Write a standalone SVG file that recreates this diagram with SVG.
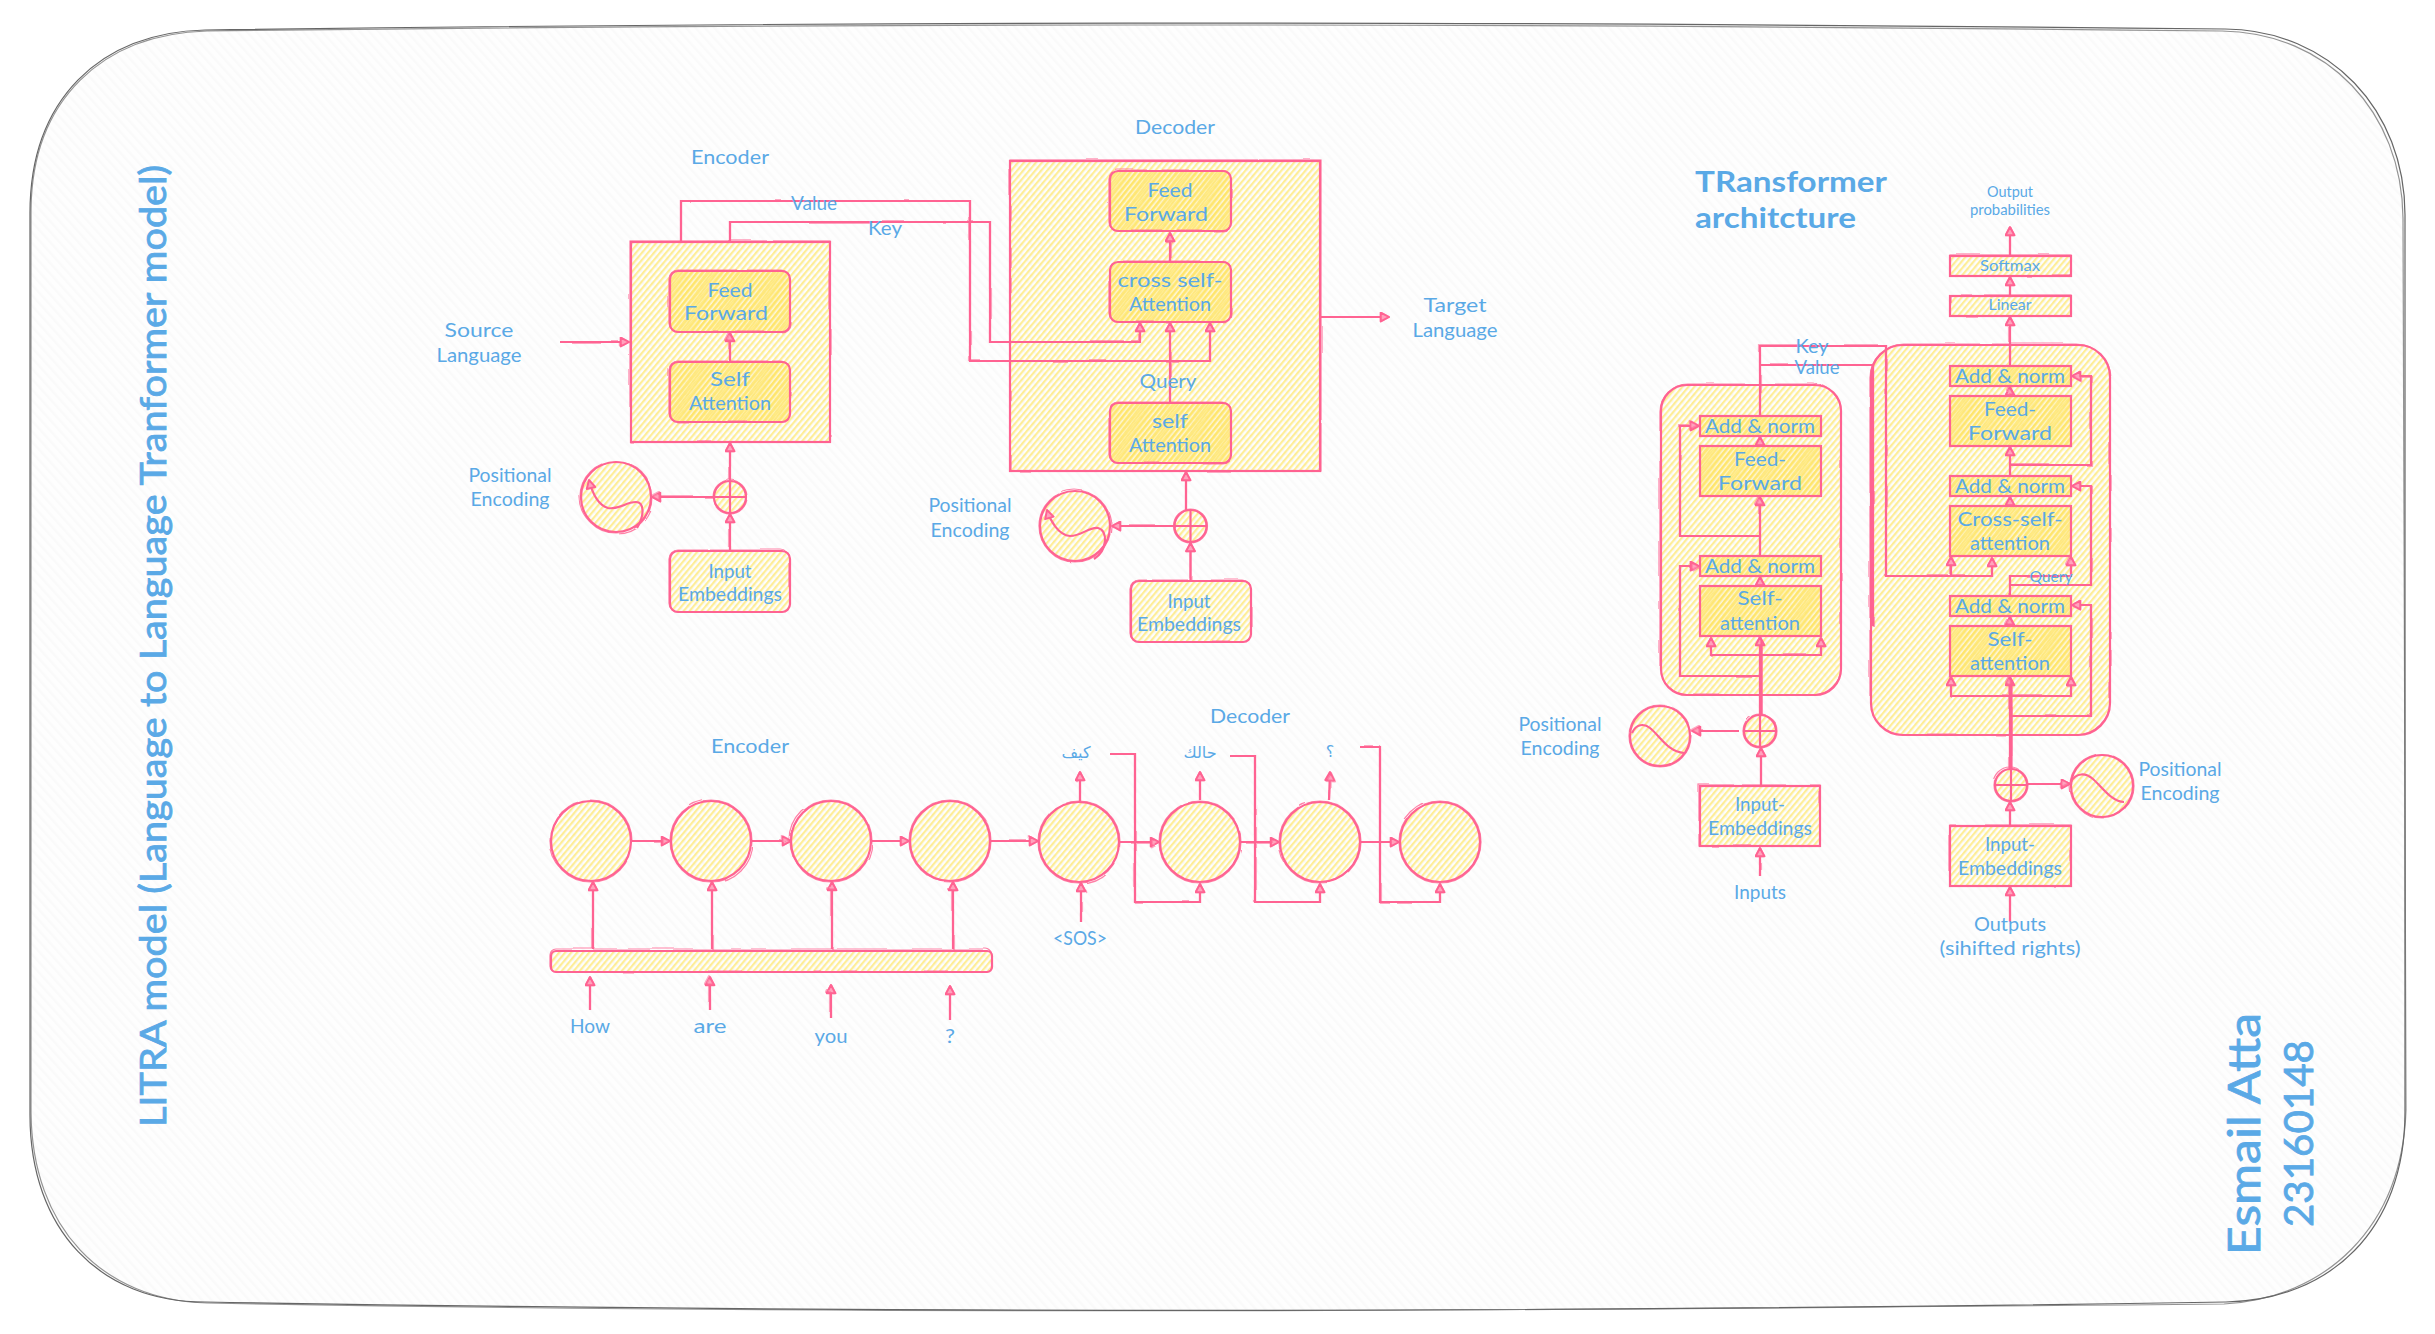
<svg xmlns="http://www.w3.org/2000/svg" xmlns:xlink="http://www.w3.org/1999/xlink" width="2435" height="1334" viewBox="0 0 2435 1334">
<style>
.s{fill:none;stroke:#ff6392;stroke-width:2.2}
.r{fill:none;stroke:#ff6392;stroke-width:1.2;opacity:.8;filter:url(#rough)}
.a{fill:url(#hA)}
.b{fill:url(#hB)}
.c{fill:none;stroke:#ff6392;stroke-width:2.2;marker-end:url(#arrow)}
.l{fill:none;stroke:#ff6392;stroke-width:2.2}
text{font-family:"Lato","Liberation Sans",sans-serif;fill:#5aa9e6;font-size:20px;text-anchor:middle;dominant-baseline:central}
text:not(.big):not(.title){transform:translateY(-1.5px)}
.sm{font-size:15px}
.ar{font-family:"DejaVu Sans","Noto Sans",sans-serif;font-size:16px}
.big{font-size:36px;text-anchor:start;dominant-baseline:alphabetic;stroke:#5aa9e6;stroke-width:.8}
.title{font-size:28px;font-weight:700;text-anchor:start;dominant-baseline:alphabetic}
.frame{fill:none;stroke:#666;stroke-width:1.2}
</style>
<defs>
<pattern id="hBg" width="7" height="7" patternUnits="userSpaceOnUse" patternTransform="rotate(-42)"><rect width="7" height="7" fill="#fefefe"/><rect width="2.5" height="7" fill="#fafafa"/></pattern>
<pattern id="hA" width="4.6" height="4.6" patternUnits="userSpaceOnUse" patternTransform="rotate(40)"><rect width="2.2" height="4.6" fill="#ffe45e" fill-opacity=".64"/></pattern>
<pattern id="hB" width="4" height="4" patternUnits="userSpaceOnUse" patternTransform="rotate(38)"><rect width="4" height="4" fill="#ffe45e" fill-opacity=".22"/><rect width="2.4" height="4" fill="#ffe45e" fill-opacity=".72"/></pattern>
<filter id="rough" x="-8%" y="-8%" width="116%" height="116%"><feTurbulence type="fractalNoise" baseFrequency="0.025" numOctaves="2" seed="4"/><feDisplacementMap in="SourceGraphic" scale="3.5"/></filter>
<marker id="arrow" markerUnits="userSpaceOnUse" viewBox="0 0 10 10" markerWidth="11" markerHeight="11" refX="9" refY="5" orient="auto"><path d="M1.5,1 L9,5 L1.5,9 Z" fill="#ffa3bd" stroke="#ff6392" stroke-width="1.8" stroke-linejoin="round"/></marker>
</defs>

<g id="frame">
<path d="M30,213 C30,100 100,32 205,30 C800,22 1400,20 2225,29 C2330,30 2405,110 2405,215 L2405,1112 C2405,1230 2330,1300 2226,1302 C1600,1312 900,1314 205,1302 C100,1302 30,1230 30,1115 Z" fill="url(#hBg)" stroke="#666" stroke-width="1.2"/>
<path class="frame" opacity=".7" d="M31,210 C32,100 102,34 207,31 C800,24 1400,22 2222,31 C2328,33 2402,112 2403,218 L2406,1110 C2402,1228 2326,1298 2224,1304 C1600,1310 900,1316 207,1303 C102,1300 32,1228 31,1112 Z"/>
</g>

<g id="titles">
<text class="big" id="t-litra" transform="translate(166 1127) rotate(-90)" textLength="962" lengthAdjust="spacingAndGlyphs">LITRA model (Language to Language Tranformer model)</text>
<text class="big" id="t-name" style="font-size:44px" transform="translate(2260 1255) rotate(-90)" textLength="242" lengthAdjust="spacingAndGlyphs">Esmail Atta</text>
<text class="big" id="t-num" style="font-size:40px" transform="translate(2313 1227) rotate(-90)" textLength="187" lengthAdjust="spacingAndGlyphs">23160148</text>
<text class="title" x="1695" y="192" textLength="192" lengthAdjust="spacingAndGlyphs">TRansformer</text>
<text class="title" x="1695" y="228" textLength="161" lengthAdjust="spacingAndGlyphs">architcture</text>
</g>

<g id="enc-box"><rect class="a" x="631" y="242" width="199" height="200"/><rect class="s" x="631" y="242" width="199" height="200"/><rect class="r" x="630" y="241" width="200" height="201"/></g>
<g id="dec-box"><rect class="a" x="1010" y="161" width="310" height="310"/><rect class="s" x="1010" y="161" width="310" height="310"/><rect class="r" x="1010" y="160" width="311" height="311"/></g>
<g id="arch-enc"><rect class="a" x="1661" y="385" width="180" height="310" rx="26"/><rect class="s" x="1661" y="385" width="180" height="310" rx="26"/><rect class="r" x="1660" y="384" width="181" height="311" rx="28"/></g>
<g id="arch-dec"><rect class="a" x="1871" y="345" width="239" height="390" rx="32"/><rect class="s" x="1871" y="345" width="239" height="390" rx="32"/><rect class="r" x="1870" y="344" width="240" height="391" rx="34"/></g>

<g id="enc-ff"><rect class="b" x="670" y="271" width="120" height="61" rx="8"/><rect class="s" x="670" y="271" width="120" height="61" rx="8"/><rect class="r" x="669" y="270" width="121" height="62" rx="9"/><text x="730" y="290" textLength="45" lengthAdjust="spacingAndGlyphs">Feed</text><text x="726" y="313" textLength="84" lengthAdjust="spacingAndGlyphs">Forward</text></g>
<g id="enc-sa"><rect class="b" x="670" y="362" width="120" height="60" rx="8"/><rect class="s" x="670" y="362" width="120" height="60" rx="8"/><rect class="r" x="669" y="361" width="121" height="61" rx="9"/><text x="730" y="379" textLength="40" lengthAdjust="spacingAndGlyphs">Self</text><text x="730" y="403" textLength="82" lengthAdjust="spacingAndGlyphs">Attention</text></g>
<g id="enc-ie"><rect class="a" x="670" y="551" width="120" height="61" rx="8"/><rect class="s" x="670" y="551" width="120" height="61" rx="8"/><rect class="r" x="669" y="550" width="121" height="62" rx="9"/><text x="730" y="571" textLength="43" lengthAdjust="spacingAndGlyphs">Input</text><text x="730" y="594" textLength="104" lengthAdjust="spacingAndGlyphs">Embeddings</text></g>
<g id="enc-plus"><circle class="a" cx="730" cy="497" r="16"/><circle class="s" cx="730" cy="497" r="16"/><circle class="r" cx="730" cy="497" r="17"/><path class="l" d="M714,497H746M730,481V513"/></g>
<g id="enc-pos"><circle class="a" cx="616" cy="497" r="35"/><circle class="s" cx="616" cy="497" r="35"/><circle class="r" cx="616" cy="497" r="36"/><path class="c" d="M637,528 C645,515 644,502 636,502 C625,502 620,510 608,508 C598,505 592,492 589,480"/></g>

<g id="dec-ff"><rect class="b" x="1110" y="171" width="121" height="60" rx="8"/><rect class="s" x="1110" y="171" width="121" height="60" rx="8"/><rect class="r" x="1109" y="170" width="122" height="61" rx="9"/><text x="1170" y="190" textLength="45" lengthAdjust="spacingAndGlyphs">Feed</text><text x="1166" y="214" textLength="84" lengthAdjust="spacingAndGlyphs">Forward</text></g>
<g id="dec-cross"><rect class="b" x="1110" y="262" width="121" height="60" rx="8"/><rect class="s" x="1110" y="262" width="121" height="60" rx="8"/><rect class="r" x="1109" y="261" width="122" height="61" rx="9"/><text x="1170" y="280" textLength="105" lengthAdjust="spacingAndGlyphs">cross self-</text><text x="1170" y="304" textLength="82" lengthAdjust="spacingAndGlyphs">Attention</text></g>
<g id="dec-self"><rect class="b" x="1110" y="403" width="121" height="60" rx="8"/><rect class="s" x="1110" y="403" width="121" height="60" rx="8"/><rect class="r" x="1109" y="402" width="122" height="61" rx="9"/><text x="1170" y="421" textLength="36" lengthAdjust="spacingAndGlyphs">self</text><text x="1170" y="445" textLength="82" lengthAdjust="spacingAndGlyphs">Attention</text></g>
<g id="dec-ie"><rect class="a" x="1131" y="581" width="120" height="61" rx="8"/><rect class="s" x="1131" y="581" width="120" height="61" rx="8"/><rect class="r" x="1130" y="580" width="121" height="62" rx="9"/><text x="1189" y="601" textLength="43" lengthAdjust="spacingAndGlyphs">Input</text><text x="1189" y="624" textLength="104" lengthAdjust="spacingAndGlyphs">Embeddings</text></g>
<g id="dec-plus"><circle class="a" cx="1190.5" cy="526" r="16"/><circle class="s" cx="1190.5" cy="526" r="16"/><circle class="r" cx="1190.5" cy="526" r="17"/><path class="l" d="M1174,526H1207M1190.5,510V542"/></g>
<g id="dec-pos"><circle class="a" cx="1075" cy="526" r="35"/><circle class="s" cx="1075" cy="526" r="35"/><circle class="r" cx="1075" cy="526" r="36"/><path class="c" d="M1094,559 C1108,550 1108,530 1098,528 C1088,527 1082,536 1070,536 C1058,535 1050,520 1047,510"/></g>

<g id="seq-bar"><rect class="a" x="551" y="951" width="441" height="21" rx="5"/><rect class="s" x="551" y="951" width="441" height="21" rx="5"/><rect class="r" x="550" y="949" width="442" height="23" rx="6"/></g>
<g id="seq-1"><circle class="a" cx="591" cy="841" r="40"/><circle class="s" cx="591" cy="841" r="40"/><circle class="r" cx="591" cy="841" r="41"/></g>
<g id="seq-2"><circle class="a" cx="711" cy="841" r="40"/><circle class="s" cx="711" cy="841" r="40"/><circle class="r" cx="711" cy="841" r="41"/></g>
<g id="seq-3"><circle class="a" cx="831" cy="841" r="40"/><circle class="s" cx="831" cy="841" r="40"/><circle class="r" cx="831" cy="841" r="41"/></g>
<g id="seq-4"><circle class="a" cx="950" cy="841" r="40"/><circle class="s" cx="950" cy="841" r="40"/><circle class="r" cx="950" cy="841" r="41"/></g>
<g id="seq-5"><circle class="a" cx="1079" cy="842" r="40"/><circle class="s" cx="1079" cy="842" r="40"/><circle class="r" cx="1079" cy="842" r="41"/></g>
<g id="seq-6"><circle class="a" cx="1200" cy="842" r="40"/><circle class="s" cx="1200" cy="842" r="40"/><circle class="r" cx="1200" cy="842" r="41"/></g>
<g id="seq-7"><circle class="a" cx="1320" cy="842" r="40"/><circle class="s" cx="1320" cy="842" r="40"/><circle class="r" cx="1320" cy="842" r="41"/></g>
<g id="seq-8"><circle class="a" cx="1440" cy="842" r="40"/><circle class="s" cx="1440" cy="842" r="40"/><circle class="r" cx="1440" cy="842" r="41"/></g>

<g id="ae-an2"><rect class="b" x="1700" y="416" width="121" height="20"/><rect class="s" x="1700" y="416" width="121" height="20"/><text x="1760" y="426" textLength="110" lengthAdjust="spacingAndGlyphs">Add &amp; norm</text></g>
<g id="ae-ff"><rect class="b" x="1700" y="446" width="121" height="50"/><rect class="s" x="1700" y="446" width="121" height="50"/><text x="1760" y="459" textLength="52" lengthAdjust="spacingAndGlyphs">Feed-</text><text x="1760" y="483" textLength="84" lengthAdjust="spacingAndGlyphs">Forward</text></g>
<g id="ae-an1"><rect class="b" x="1700" y="556" width="121" height="20"/><rect class="s" x="1700" y="556" width="121" height="20"/><text x="1760" y="566" textLength="110" lengthAdjust="spacingAndGlyphs">Add &amp; norm</text></g>
<g id="ae-sa"><rect class="b" x="1700" y="586" width="121" height="50"/><rect class="s" x="1700" y="586" width="121" height="50"/><text x="1760" y="598" textLength="45" lengthAdjust="spacingAndGlyphs">Self-</text><text x="1760" y="623" textLength="80" lengthAdjust="spacingAndGlyphs">attention</text></g>
<g id="ae-ie"><rect class="a" x="1700" y="786" width="120" height="60"/><rect class="s" x="1700" y="786" width="120" height="60"/><rect class="r" x="1699" y="785" width="121" height="61"/><text x="1760" y="804" textLength="50" lengthAdjust="spacingAndGlyphs">Input-</text><text x="1760" y="828" textLength="104" lengthAdjust="spacingAndGlyphs">Embeddings</text></g>
<g id="ae-plus"><circle class="a" cx="1760" cy="731" r="16"/><circle class="s" cx="1760" cy="731" r="16"/><circle class="r" cx="1760" cy="731" r="17"/><path class="l" d="M1744,731H1776M1760,715V747"/></g>
<g id="ae-pos"><circle class="a" cx="1660" cy="736" r="30"/><circle class="s" cx="1660" cy="736" r="30"/><circle class="r" cx="1660" cy="736" r="31"/><path class="l" d="M1632,733 C1636,724 1644,723 1650,728 C1660,736 1668,752 1684,753"/></g>

<g id="ad-soft"><rect class="a" x="1950" y="256" width="121" height="20"/><rect class="s" x="1950" y="256" width="121" height="20"/><rect class="r" x="1950" y="255" width="121" height="21"/><text class="sm" x="2010" y="266" textLength="60" lengthAdjust="spacingAndGlyphs">Softmax</text></g>
<g id="ad-lin"><rect class="a" x="1950" y="296" width="121" height="20"/><rect class="s" x="1950" y="296" width="121" height="20"/><rect class="r" x="1950" y="295" width="121" height="21"/><text class="sm" x="2010" y="305" textLength="43" lengthAdjust="spacingAndGlyphs">Linear</text></g>
<g id="ad-an3"><rect class="b" x="1950" y="366" width="121" height="20"/><rect class="s" x="1950" y="366" width="121" height="20"/><text x="2010" y="376" textLength="110" lengthAdjust="spacingAndGlyphs">Add &amp; norm</text></g>
<g id="ad-ff"><rect class="b" x="1950" y="396" width="121" height="50"/><rect class="s" x="1950" y="396" width="121" height="50"/><text x="2010" y="409" textLength="52" lengthAdjust="spacingAndGlyphs">Feed-</text><text x="2010" y="433" textLength="84" lengthAdjust="spacingAndGlyphs">Forward</text></g>
<g id="ad-an2"><rect class="b" x="1950" y="476" width="121" height="20"/><rect class="s" x="1950" y="476" width="121" height="20"/><text x="2010" y="486" textLength="110" lengthAdjust="spacingAndGlyphs">Add &amp; norm</text></g>
<g id="ad-cross"><rect class="b" x="1950" y="506" width="121" height="50"/><rect class="s" x="1950" y="506" width="121" height="50"/><text x="2010" y="519" textLength="105" lengthAdjust="spacingAndGlyphs">Cross-self-</text><text x="2010" y="543" textLength="80" lengthAdjust="spacingAndGlyphs">attention</text></g>
<g id="ad-an1"><rect class="b" x="1950" y="596" width="121" height="20"/><rect class="s" x="1950" y="596" width="121" height="20"/><text x="2010" y="606" textLength="110" lengthAdjust="spacingAndGlyphs">Add &amp; norm</text></g>
<g id="ad-sa"><rect class="b" x="1950" y="626" width="121" height="50"/><rect class="s" x="1950" y="626" width="121" height="50"/><text x="2010" y="639" textLength="45" lengthAdjust="spacingAndGlyphs">Self-</text><text x="2010" y="663" textLength="80" lengthAdjust="spacingAndGlyphs">attention</text></g>
<g id="ad-ie"><rect class="a" x="1950" y="826" width="121" height="60"/><rect class="s" x="1950" y="826" width="121" height="60"/><rect class="r" x="1950" y="825" width="121" height="61"/><text x="2010" y="844" textLength="50" lengthAdjust="spacingAndGlyphs">Input-</text><text x="2010" y="868" textLength="104" lengthAdjust="spacingAndGlyphs">Embeddings</text></g>
<g id="ad-plus"><circle class="a" cx="2011" cy="785" r="16"/><circle class="s" cx="2011" cy="785" r="16"/><circle class="r" cx="2011" cy="785" r="17"/><path class="l" d="M1995,785H2027M2011,769V801"/></g>
<g id="ad-pos"><circle class="a" cx="2102" cy="786" r="31"/><circle class="s" cx="2102" cy="786" r="31"/><circle class="r" cx="2102" cy="786" r="32"/><path class="l" d="M2071,782 C2076,772 2086,773 2093,779 C2103,788 2112,802 2124,802"/></g>

<g id="connectors">
<path class="c" d="M560,342H629"/>
<path class="c" d="M730,362V333"/>
<path class="c" d="M730,551V514"/>
<path class="c" d="M730,480V443"/>
<path class="c" d="M713,497H652"/>
<path class="c" d="M681,242V201H970V361H1210V323"/>
<path class="c" d="M730,242V222H990V342H1140V323"/>
<path class="c" d="M1170,403V323"/>
<path class="c" d="M1170,262V233"/>
<path class="c" d="M1320,317H1389"/>
<path class="c" d="M1190.5,581V543"/>
<path class="c" d="M1186,510V472"/>
<path class="c" d="M1175,526H1112"/>

<path class="c" d="M632,841H670"/>
<path class="c" d="M752,841H791"/>
<path class="c" d="M871,841H909"/>
<path class="c" d="M991,841H1038"/>
<path class="c" d="M1120,842H1159"/>
<path class="c" d="M1241,842H1279"/>
<path class="c" d="M1361,842H1399"/>
<path class="c" d="M593,949V882"/>
<path class="c" d="M712,949V882"/>
<path class="c" d="M832,949V882"/>
<path class="c" d="M953,949V882"/>
<path class="c" d="M590,1010V977"/>
<path class="c" d="M710,1010V977"/>
<path class="c" d="M831,1018V985"/>
<path class="c" d="M950,1020V986"/>
<path class="c" d="M1081,922V883"/>
<path class="c" d="M1080,801V772"/>
<path class="c" d="M1200,800V772"/>
<path class="c" d="M1329,800L1330,772"/>
<path class="c" d="M1110,754H1135V902H1200V884"/>
<path class="c" d="M1230,756H1255V902H1320V884"/>
<path class="c" d="M1360,747H1380V902H1440V884"/>

<path class="c" d="M1760,876V848"/>
<path class="c" d="M1761,786V748"/>
<path class="c" d="M1739,731H1692"/>
<path class="c" d="M1760,715V637"/>
<path class="l" d="M1761.5,715V640"/>
<path class="c" d="M1760,676H1680V566H1699"/>
<path class="c" d="M1760,655H1711V638"/>
<path class="c" d="M1760,655H1821V638"/>
<path class="c" d="M1760,586V577"/>
<path class="c" d="M1760,556V497"/>
<path class="c" d="M1760,536H1680V426H1699"/>
<path class="c" d="M1760,446V437"/>
<path class="l" d="M1760,416V346H1886V576H1951"/>
<path class="l" d="M1760,365H1873V626"/>

<path class="c" d="M2010,922V887"/>
<path class="c" d="M2010,826V802"/>
<path class="c" d="M2027,784H2070"/>
<path class="c" d="M2010,769V677"/>
<path class="l" d="M2011.5,769V680"/>
<path class="c" d="M2010,696H1951V677"/>
<path class="c" d="M2010,696H2071V677"/>
<path class="c" d="M2011,716H2091V605H2072"/>
<path class="c" d="M2010,626V617"/>
<path class="c" d="M2010,596V576H2071V557"/>
<path class="c" d="M2010,585H2091V486H2072"/>
<path class="c" d="M1951,576V557"/>
<path class="c" d="M1951,576H1992V558"/>
<path class="c" d="M2010,506V497"/>
<path class="c" d="M2010,476V447"/>
<path class="c" d="M2010,465H2091V376H2072"/>
<path class="c" d="M2010,396V387"/>
<path class="c" d="M2010,366V317"/>
<path class="c" d="M2010,296V277"/>
<path class="c" d="M2010,256V227"/>
</g>
<use href="#connectors" filter="url(#rough)" opacity=".55"/>

<g id="labels">
<text x="730" y="157" textLength="78" lengthAdjust="spacingAndGlyphs">Encoder</text>
<text x="1175" y="127" textLength="80" lengthAdjust="spacingAndGlyphs">Decoder</text>
<text x="814" y="203" textLength="46" lengthAdjust="spacingAndGlyphs">Value</text>
<text x="885" y="228" textLength="34" lengthAdjust="spacingAndGlyphs">Key</text>
<text x="1168" y="381" textLength="57" lengthAdjust="spacingAndGlyphs">Query</text>
<text x="479" y="330" textLength="69" lengthAdjust="spacingAndGlyphs">Source</text>
<text x="479" y="355" textLength="85" lengthAdjust="spacingAndGlyphs">Language</text>
<text x="1455" y="305" textLength="63" lengthAdjust="spacingAndGlyphs">Target</text>
<text x="1455" y="330" textLength="85" lengthAdjust="spacingAndGlyphs">Language</text>
<text x="510" y="475" textLength="83" lengthAdjust="spacingAndGlyphs">Positional</text>
<text x="510" y="499" textLength="79" lengthAdjust="spacingAndGlyphs">Encoding</text>
<text x="970" y="505" textLength="83" lengthAdjust="spacingAndGlyphs">Positional</text>
<text x="970" y="530" textLength="79" lengthAdjust="spacingAndGlyphs">Encoding</text>
<text x="750" y="746" textLength="78" lengthAdjust="spacingAndGlyphs">Encoder</text>
<text x="1250" y="716" textLength="80" lengthAdjust="spacingAndGlyphs">Decoder</text>
<text x="590" y="1026" textLength="40" lengthAdjust="spacingAndGlyphs">How</text>
<text x="710" y="1026" textLength="33" lengthAdjust="spacingAndGlyphs">are</text>
<text x="831" y="1036" textLength="33" lengthAdjust="spacingAndGlyphs">you</text>
<text x="950" y="1036" textLength="10" lengthAdjust="spacingAndGlyphs">?</text>
<text x="1080" y="938" textLength="54" lengthAdjust="spacingAndGlyphs">&lt;SOS&gt;</text>
<text class="ar" x="1076" y="754">كيف</text>
<text class="ar" x="1200" y="754">حالك</text>
<text class="ar" x="1330" y="753">؟</text>
<text x="1812" y="346" textLength="33" lengthAdjust="spacingAndGlyphs">Key</text>
<text x="1817" y="367" textLength="45" lengthAdjust="spacingAndGlyphs">Value</text>
<text class="sm" x="2051" y="577" textLength="43" lengthAdjust="spacingAndGlyphs">Query</text>
<text class="sm" x="2010" y="192" textLength="46" lengthAdjust="spacingAndGlyphs">Output</text>
<text class="sm" x="2010" y="210" textLength="80" lengthAdjust="spacingAndGlyphs">probabilities</text>
<text x="1560" y="724" textLength="83" lengthAdjust="spacingAndGlyphs">Positional</text>
<text x="1560" y="748" textLength="79" lengthAdjust="spacingAndGlyphs">Encoding</text>
<text x="2180" y="769" textLength="83" lengthAdjust="spacingAndGlyphs">Positional</text>
<text x="2180" y="793" textLength="79" lengthAdjust="spacingAndGlyphs">Encoding</text>
<text x="1760" y="892" textLength="52" lengthAdjust="spacingAndGlyphs">Inputs</text>
<text x="2010" y="924" textLength="72" lengthAdjust="spacingAndGlyphs">Outputs</text>
<text x="2010" y="948" textLength="141" lengthAdjust="spacingAndGlyphs">(sihifted rights)</text>
</g>
</svg>
